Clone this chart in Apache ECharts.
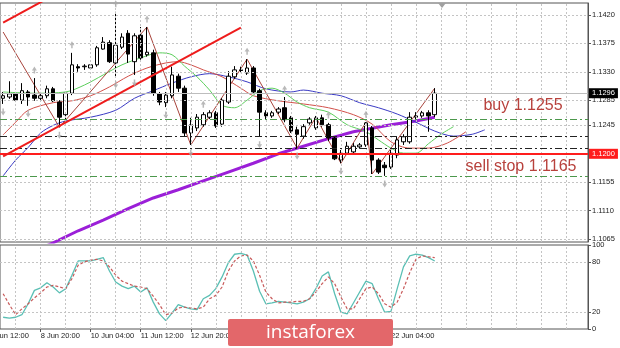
<!DOCTYPE html>
<html><head><meta charset="utf-8">
<script src="https://cdn.jsdelivr.net/npm/echarts@6/dist/echarts.min.js"></script>
<style>html,body{margin:0;padding:0;background:#fff}#c{width:620px;height:348px}</style>
</head><body><div id="c"></div>
<script>
// ---- price bars (H4 candles) ----
const opens  = [1.1288,1.1290,1.1295,1.1285,1.1298,1.1293,1.1288,1.1292,1.1303,1.1282,1.1262,1.1296,1.1338,1.1338,1.1336,1.1341,1.1366,1.1376,1.1344,1.1369,1.1391,1.1346,1.1388,1.1357,1.1360,1.1295,1.1281,1.1292,1.1323,1.1304,1.1233,1.1241,1.1246,1.1258,1.1265,1.1247,1.1282,1.1322,1.1333,1.1328,1.1336,1.1300,1.1265,1.1260,1.1266,1.1273,1.1257,1.1238,1.1228,1.1249,1.1241,1.1257,1.1246,1.1225,1.1190,1.1201,1.1203,1.1211,1.1214,1.1241,1.1190,1.1182,1.1179,1.1198,1.1219,1.1219,1.1258,1.1260,1.1265,1.1262];
const closes = [1.1292,1.1295,1.1285,1.1300,1.1290,1.1288,1.1292,1.1303,1.1284,1.1258,1.1296,1.1341,1.1336,1.1339,1.1341,1.1368,1.1377,1.1346,1.1372,1.1385,1.1358,1.1387,1.1352,1.1361,1.1296,1.1282,1.1293,1.1325,1.1304,1.1233,1.1246,1.1258,1.1262,1.1265,1.1244,1.1285,1.1323,1.1333,1.1332,1.1336,1.1298,1.1266,1.1260,1.1265,1.1271,1.1254,1.1236,1.1231,1.1243,1.1255,1.1257,1.1246,1.1225,1.1192,1.1201,1.1212,1.1212,1.1214,1.1249,1.1190,1.1171,1.1178,1.1201,1.1222,1.1227,1.1258,1.1260,1.1265,1.1260,1.1296];
const highs  = [1.1298,1.1315,1.1298,1.1312,1.1301,1.1320,1.1298,1.1308,1.1306,1.1285,1.1298,1.1360,1.1342,1.1342,1.1342,1.1371,1.1385,1.1380,1.1425,1.1391,1.1396,1.1391,1.1401,1.1401,1.1365,1.1298,1.1298,1.1338,1.1327,1.1308,1.1257,1.1263,1.1266,1.1269,1.1268,1.1288,1.1331,1.1339,1.1338,1.1350,1.1339,1.1303,1.1269,1.1268,1.1274,1.1290,1.1260,1.1243,1.1247,1.1258,1.1260,1.1262,1.1249,1.1228,1.1206,1.1219,1.1217,1.1217,1.1250,1.1244,1.1193,1.1187,1.1206,1.1227,1.1231,1.1266,1.1266,1.1268,1.1269,1.1304];
const lows   = [1.1279,1.1287,1.1282,1.1279,1.1276,1.1284,1.1285,1.1288,1.1282,1.1242,1.1254,1.1293,1.1330,1.1333,1.1334,1.1338,1.1365,1.1344,1.1322,1.1366,1.1344,1.1325,1.1349,1.1354,1.1292,1.1277,1.1274,1.1288,1.1298,1.1228,1.1214,1.1236,1.1243,1.1255,1.1241,1.1243,1.1279,1.1319,1.1328,1.1325,1.1296,1.1227,1.1255,1.1257,1.1263,1.1250,1.1233,1.1209,1.1224,1.1246,1.1238,1.1243,1.1220,1.1190,1.1185,1.1198,1.1200,1.1208,1.1211,1.1168,1.1168,1.1165,1.1176,1.1193,1.1214,1.1216,1.1254,1.1257,1.1235,1.1258];

// ---- overlays: [bar, price] ----
const purpleMA = [[0,1.1024],[4,1.1041],[8,1.1059],[12,1.1078],[16,1.1095],[20,1.1113],[24,1.1130],[28,1.1143],[32,1.1157],[36,1.1171],[40,1.1185],[44,1.1200],[48,1.1212],[52,1.1224],[56,1.1235],[62,1.1246],[66,1.1252],[69,1.1258]];
const jawLine  = [[0,1.1165],[2,1.1190],[4,1.1210],[6,1.1233],[8,1.1245],[10,1.1252],[14,1.1258],[18,1.1269],[21,1.1288],[24,1.1300],[27,1.1312],[30,1.1322],[33,1.1327],[36,1.1322],[39,1.1314],[42,1.1303],[46,1.1298],[48,1.1301],[51,1.1296],[54,1.1292],[57,1.1281],[60,1.1273],[63,1.1263],[66,1.1250],[69,1.1236],[72,1.1228],[75,1.1231],[77,1.1238]];
const teethLine= [[0,1.1230],[2,1.1250],[4,1.1269],[8,1.1281],[11,1.1284],[14,1.1292],[17,1.1306],[20,1.1323],[23,1.1336],[26,1.1344],[28,1.1346],[30,1.1341],[32,1.1333],[35,1.1322],[38,1.1304],[40,1.1292],[44,1.1284],[48,1.1279],[52,1.1273],[56,1.1262],[59,1.1247],[62,1.1219],[65,1.1209],[68,1.1209],[71,1.1217],[74,1.1235]];
const lipsLine = [[0,1.1298],[5,1.1296],[10,1.1298],[13,1.1309],[16,1.1325],[19,1.1341],[22,1.1352],[25,1.1360],[27,1.1357],[29,1.1339],[31,1.1322],[33,1.1301],[35,1.1277],[37,1.1273],[39,1.1285],[41,1.1300],[43,1.1304],[45,1.1296],[47,1.1282],[49,1.1273],[52,1.1266],[55,1.1246],[58,1.1235],[60,1.1222],[62,1.1209],[64,1.1201],[66,1.1201],[68,1.1216],[70,1.1231],[72,1.1243]];
const zigzag   = [[0,1.1393],[9,1.1242],[23,1.1401],[30,1.1214],[39,1.1350],[47,1.1209],[50,1.1258],[54,1.1185],[58,1.1250],[59,1.1168],[69,1.1304]];
const trendLower = [[0,1.1196],[38,1.1400]];
const trendUpper = [[0,1.1408],[8,1.1451]];
const fractalUp   = [5,11,18,23,32,39,45,52,58];
const fractalDown = [0,4,9,18,21,26,30,41,47,54,61];

// ---- horizontal levels ----
const redLevel = 1.1200, bidPrice = 1.1296;
const greenLevels = [1.1255, 1.1165];     // buy / sell stop
const dashDotLevels = [1.1228, 1.1208];

// ---- stochastic ----
const stochK = [14,13,14,17,30,46,49,55,50,43,48,64,81,81,81,83,85,69,56,51,48,51,44,49,32,18,10,19,29,26,24,23,36,40,48,62,79,89,90,88,69,45,30,31,33,32,31,30,32,36,48,63,68,42,20,18,31,44,57,54,36,20,21,48,74,87,89,88,85,81];
const stochD = [42,29,17,24,30,37,43,50,52,50,48,60,76,80,82,83,81,74,64,57,54,51,50,48,39,29,17,19,25,26,25,24,26,36,40,50,69,81,87,88,81,64,44,36,31,32,32,33,33,36,44,54,62,54,38,24,24,36,48,50,42,30,26,32,48,67,83,87,86,85];

// ---- ticks / labels ----
const priceTicks = [1.1420,1.1375,1.1330,1.1285,1.1245,1.1200,1.1155,1.1110,1.1065];
const stochTicks = [0,20,80,100];
const stochLevels = [20,80];
const timeLabelBars = [6,14,22,30,38,46,54,62];
const timeLabels = ['8 Jun 20:00','10 Jun 04:00','11 Jun 12:00','12 Jun 20:00','16 Jun 04:00','17 Jun 12:00','18 Jun 20:00','22 Jun 04:00'];
const leadLabel = {bar:-2, text:'5 Jun 12:00'};
const buyText = 'buy 1.1255', sellText = 'sell stop 1.1165';

const N = 94;
const slots = Array.from({length:N}, (_, i) => String(i));
const candleData = opens.map((o, i) => [o, closes[i], lows[i], highs[i]]);
const gridBars = []; for (let b = 2; b < N; b += 4) gridBars.push(b);

const gridLeft = -1, gridW = 589, band = gridW / N;
const FONT = '"Liberation Sans", Arial, sans-serif';
const dotted = {color:'#c4c4c4', type:[2,2], width:1};
const arrowPath = 'path://M4,0 L8,5 L5.2,5 L5.2,9 L2.8,9 L2.8,5 L0,5 Z';

const chart = echarts.init(document.getElementById('c'));
const isLabelBar = (i) => timeLabelBars.indexOf(i) >= 0;

function levelSeries(values, style, z, label) {
  return {type:'line', xAxisIndex:0, yAxisIndex:0, data:[], silent:true, z:z,
    markLine:{silent:true, precision:6, symbol:['none','none'], animation:false, lineStyle:style,
      label: label || {show:false},
      data: values.map(v=>({yAxis:v}))}};
}

chart.setOption({
  animation: false,
  backgroundColor: '#fff',
  textStyle: {fontFamily: FONT},
  grid: [
    {left: gridLeft, top: 3, width: gridW, height: 239, show: true, borderColor: '#555', borderWidth: 1},
    {left: gridLeft, top: 245, width: gridW, height: 84, show: true, borderColor: '#555', borderWidth: 1}
  ],
  xAxis: [
    {type:'category', gridIndex:0, data:slots, axisLine:{show:false}, axisTick:{show:false}, axisLabel:{show:false}, splitLine:{show:false}},
    {type:'category', gridIndex:1, data:slots, axisLine:{show:false},
     axisTick:{show:true, alignWithLabel:true, interval:(i)=>isLabelBar(i), length:3, lineStyle:{color:'#555'}},
     axisLabel:{show:true, interval:(i)=>isLabelBar(i), formatter:(v)=>timeLabels[timeLabelBars.indexOf(Number(v))] || '', align:'left', fontSize:7.5, color:'#222', margin:3, fontFamily:FONT},
     splitLine:{show:false}}
  ],
  yAxis: [
    {type:'value', gridIndex:0, position:'right', min:1.10602, max:1.1439, scale:true,
     axisLine:{show:true, lineStyle:{color:'#555'}},
     axisTick:{show:true, customValues:priceTicks, length:3, lineStyle:{color:'#555'}},
     axisLabel:{show:true, customValues:priceTicks, formatter:(v)=>v.toFixed(4), fontSize:7.5, color:'#222', margin:4, fontFamily:FONT},
     splitLine:{show:false}},
    {type:'value', gridIndex:1, position:'right', min:0, max:100,
     axisLine:{show:true, lineStyle:{color:'#555'}},
     axisTick:{show:true, customValues:stochTicks, length:3, lineStyle:{color:'#555'}},
     axisLabel:{show:true, customValues:stochTicks, fontSize:7.5, color:'#222', margin:4, fontFamily:FONT},
     splitLine:{show:false}}
  ],
  series: [
    {type:'line', xAxisIndex:0, yAxisIndex:0, data:[], silent:true, z:0,
     markLine:{silent:true, precision:6, symbol:['none','none'], label:{show:false}, lineStyle:dotted, animation:false,
       data:[...priceTicks.map(v=>({yAxis:v})), ...gridBars.map(b=>({xAxis:String(b)}))]}},
    {type:'line', xAxisIndex:1, yAxisIndex:1, data:[], silent:true, z:0,
     markLine:{silent:true, precision:6, symbol:['none','none'], label:{show:false}, lineStyle:dotted, animation:false,
       data:[...stochLevels.map(v=>({yAxis:v})), ...gridBars.map(b=>({xAxis:String(b)}))]}},
    levelSeries([bidPrice], {color:'#bdbdbd', width:1, type:'solid'}, 1,
      {show:true, position:'end', distance:1, formatter:(p)=>Number(p.value).toFixed(4), backgroundColor:'#000', color:'#fff', fontSize:7.5, padding:[1,3,1,3], fontFamily:FONT}),
    levelSeries(greenLevels, {color:'#4c984c', width:1, type:[7,3,2,3]}, 1),
    levelSeries(dashDotLevels, {color:'#222', width:1, type:[7,3,2,3]}, 1),
    {name:'MA200', type:'line', data:purpleMA, symbol:'none', clip:true, lineStyle:{color:'#9b1fd8', width:3}, z:3},
    {name:'Jaw', type:'line', data:jawLine, symbol:'none', clip:true, smooth:0.3, lineStyle:{color:'#3a3ac4', width:1}, z:3},
    {name:'Teeth', type:'line', data:teethLine, symbol:'none', clip:true, smooth:0.3, lineStyle:{color:'#d2504a', width:1}, z:3},
    {name:'Lips', type:'line', data:lipsLine, symbol:'none', clip:true, smooth:0.3, lineStyle:{color:'#5ccf5c', width:1}, z:3},
    {name:'ZigZag', type:'line', data:zigzag, symbol:'none', clip:true, lineStyle:{color:'#a8443c', width:1}, z:3},
    {name:'Price', type:'candlestick', data:candleData, barWidth:4, z:4,
     itemStyle:{color:'#fff', color0:'#000', borderColor:'#000', borderColor0:'#000', borderWidth:1}},
    levelSeries([redLevel], {color:'#ff1d1d', width:2, type:'solid'}, 5,
      {show:true, position:'end', distance:1, formatter:(p)=>Number(p.value).toFixed(4), backgroundColor:'#ff1d1d', color:'#fff', fontSize:7.5, padding:[1,3,1,3], fontFamily:FONT}),
    {name:'TrendLow', type:'line', data:trendLower, symbol:'none', clip:true, lineStyle:{color:'#ee1c1c', width:2}, z:6},
    {name:'TrendUp', type:'line', data:trendUpper, symbol:'none', clip:true, lineStyle:{color:'#ee1c1c', width:2}, z:6},
    {name:'FracUp', type:'scatter', data:fractalUp.map(i=>[i, highs[i]]), symbol:arrowPath, symbolSize:[5,7], symbolOffset:[0,-8], itemStyle:{color:'#a8a8a8'}, z:6},
    {name:'FracDn', type:'scatter', data:fractalDown.map(i=>[i, lows[i]]), symbol:arrowPath, symbolSize:[5,7], symbolRotate:180, symbolOffset:[0,8], itemStyle:{color:'#a8a8a8'}, z:6},
    {name:'%K', type:'line', xAxisIndex:1, yAxisIndex:1, data:stochK, symbol:'none', lineStyle:{color:'#5abfb4', width:1.3}, z:3},
    {name:'%D', type:'line', xAxisIndex:1, yAxisIndex:1, data:stochD, symbol:'none', lineStyle:{color:'#c85a5a', width:1.2, type:[3,2]}, z:3}
  ],
  graphic: [
    {type:'text', x:523, y:105.5, z:50, style:{text:buyText, font:'16px ' + FONT, fill:'#b8413c', align:'center', verticalAlign:'middle'}},
    {type:'text', x:521, y:166.5, z:50, style:{text:sellText, font:'16px ' + FONT, fill:'#b8413c', align:'center', verticalAlign:'middle'}},
    {type:'text', x:gridLeft + (leadLabel.bar + 0.5) * band, y:332, z:50, style:{text:leadLabel.text, font:'7.5px ' + FONT, fill:'#222', align:'left', verticalAlign:'top'}},
    {type:'polygon', z:50, shape:{points:[[438,3],[446,3],[442,8]]}, style:{fill:'#a0a0a0'}},
    {type:'rect', z:100, shape:{x:228, y:319, width:165, height:27, r:2}, style:{fill:'#e3676a'}},
    {type:'text', z:101, x:310.5, y:332.5, style:{text:'instaforex', font:'19px "Open Sans", sans-serif', fill:'#fff', align:'center', verticalAlign:'middle'}}
  ]
});
</script></body></html>
